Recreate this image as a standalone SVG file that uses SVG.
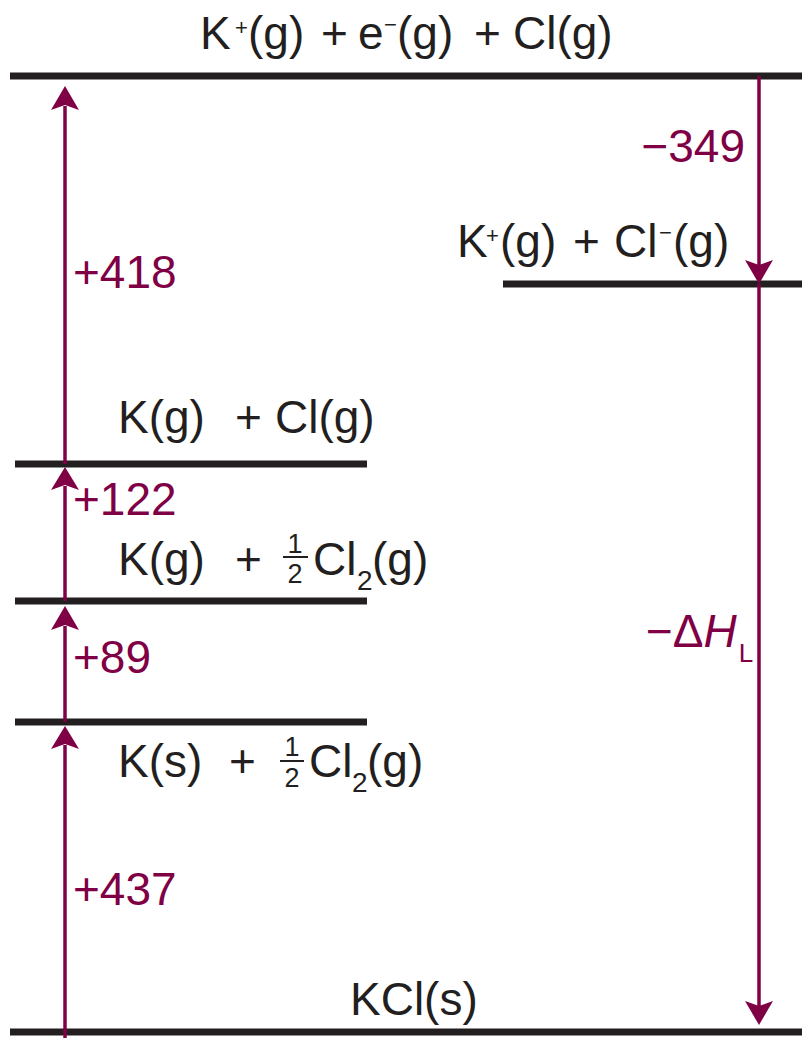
<svg xmlns="http://www.w3.org/2000/svg" width="802" height="1038" viewBox="0 0 802 1038">
<style>
.lvl{stroke:#231f20;stroke-width:7;fill:none}
.t{font-family:"Liberation Sans",Arial,sans-serif;font-size:46px;fill:#231f20}
.sup{font-size:22px}
.fr{font-size:27px}
.sub{font-size:28px}
.n{font-family:"Liberation Sans",Arial,sans-serif;font-size:46px;fill:#800045}
.ar{stroke:#800045;stroke-width:3.5;fill:none}
.hd{fill:#800045}
.bar{stroke:#231f20;stroke-width:2}
</style>
<rect width="802" height="1038" fill="#ffffff"/>
<g id="level-top">
<line class="lvl" x1="10" y1="76" x2="802" y2="76"/>
<text class="t" y="49"><tspan x="200">K</tspan><tspan class="sup" x="235" y="35">+</tspan><tspan x="248" y="49">(g)</tspan><tspan x="321">+</tspan><tspan x="358">e</tspan><tspan class="sup" x="384" y="32">−</tspan><tspan x="397" y="49">(g)</tspan><tspan x="474">+</tspan><tspan x="513">Cl(g)</tspan></text>
</g>
<g id="level-ions">
<line class="lvl" x1="503" y1="284" x2="802" y2="284"/>
<text class="t" y="257"><tspan x="457">K</tspan><tspan class="sup" x="486" y="243">+</tspan><tspan x="500" y="257">(g)</tspan><tspan x="573">+</tspan><tspan x="614">Cl</tspan><tspan class="sup" x="659" y="240">−</tspan><tspan x="673" y="257">(g)</tspan></text>
</g>
<g id="level-kg-clg">
<line class="lvl" x1="15" y1="464" x2="367" y2="464"/>
<text class="t" y="433"><tspan x="118">K(g)</tspan><tspan x="235">+</tspan><tspan x="275">Cl(g)</tspan></text>
</g>
<g id="level-kg-cl2">
<line class="lvl" x1="15" y1="601" x2="367" y2="601"/>
<text class="t" y="575"><tspan x="118">K(g)</tspan><tspan x="235">+</tspan><tspan x="313">Cl</tspan><tspan class="sub" x="357" y="590">2</tspan><tspan x="372" y="575">(g)</tspan></text>
<text class="t fr" x="295" y="553" text-anchor="middle">1</text>
<line class="bar" x1="283" y1="557" x2="308" y2="557"/>
<text class="t fr" x="295" y="583" text-anchor="middle">2</text>
</g>
<g id="level-ks-cl2">
<line class="lvl" x1="15" y1="722" x2="367" y2="722"/>
<text class="t" y="777"><tspan x="118">K(s)</tspan><tspan x="229">+</tspan><tspan x="309">Cl</tspan><tspan class="sub" x="352" y="792">2</tspan><tspan x="367" y="777">(g)</tspan></text>
<text class="t fr" x="292" y="756" text-anchor="middle">1</text>
<line class="bar" x1="280" y1="761" x2="304" y2="761"/>
<text class="t fr" x="292" y="787" text-anchor="middle">2</text>
</g>
<g id="level-kcl">
<line class="lvl" x1="10" y1="1032" x2="802" y2="1032"/>
<text class="t" x="350" y="1015">KCl(s)</text>
</g>
<g id="connectors">
<line class="ar" x1="65" y1="1038" x2="65" y2="745"/>
<path class="hd" d="M65,726 L51,749 L65,744 L79,749 Z"/>
<line class="ar" x1="65" y1="722" x2="65" y2="626"/>
<path class="hd" d="M65,606 L51,630 L65,625 L79,630 Z"/>
<line class="ar" x1="65" y1="601" x2="65" y2="486"/>
<path class="hd" d="M65,467 L51,490 L65,485 L79,490 Z"/>
<line class="ar" x1="65" y1="464" x2="65" y2="106"/>
<path class="hd" d="M65,86 L51,110 L65,105 L79,110 Z"/>
<line class="ar" x1="759" y1="76" x2="759" y2="265"/>
<path class="hd" d="M759,284 L745,260 L759,265 L773,260 Z"/>
<line class="ar" x1="759" y1="284" x2="759" y2="1006"/>
<path class="hd" d="M759,1025 L745,1001 L759,1006 L773,1001 Z"/>
</g>
<g id="labels">
<text class="n" x="745" y="162" text-anchor="end">−349</text>
<text class="n" x="73" y="288">+418</text>
<text class="n" x="73" y="515">+122</text>
<text class="n" x="73" y="673">+89</text>
<text class="n" x="73" y="905">+437</text>
<text class="n" x="646" y="647" font-size="45">−Δ<tspan font-style="italic">H</tspan><tspan font-size="26" dx="2" dy="15">L</tspan></text>
</g>
</svg>
